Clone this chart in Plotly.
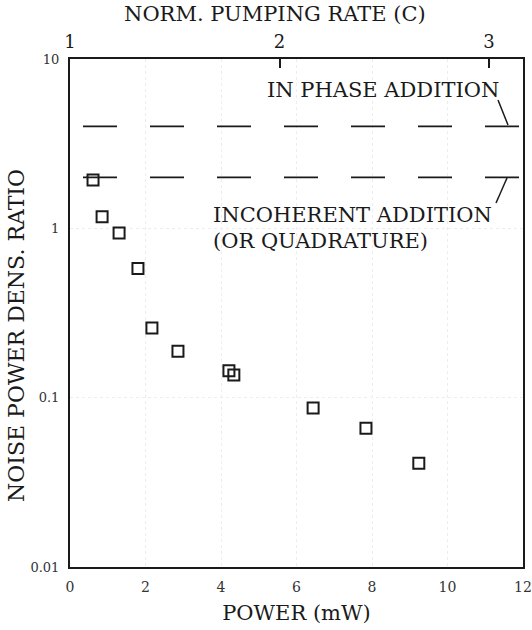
import plotly.graph_objects as go

# Data
power_mw = [0.61, 0.85, 1.30, 1.80, 2.17, 2.86, 4.21, 4.34, 6.44, 7.84, 9.24]
noise_ratio = [1.93, 1.17, 0.94, 0.58, 0.258, 0.188, 0.144, 0.136, 0.087, 0.066, 0.041]

in_phase_level = 4.0
incoherent_level = 2.0

x_ticks = [0, 2, 4, 6, 8, 10, 12]
y_ticks = [0.01, 0.1, 1, 10]
y_tick_text = ["0.01", "0.1", "1", "10"]

pump_ticks = [1, 2, 3]
pump_mw_per_unit = 5.55  # power (mW) per unit of normalized pumping rate
x_range = [0, 12]
pump_range = [1 + x_range[0] / pump_mw_per_unit, 1 + x_range[1] / pump_mw_per_unit]

FONT = "DejaVu Serif"
INK = "#1a1a1a"

# plot frame at x 70..523, y 59..567
PL, PW, PT, PH = 70, 453, 59, 508


def px(x):
    return (x - PL) / PW


def py(y):
    return 1 - (y - PT) / PH


fig = go.Figure()

dash = "0px,13px,34px,20px"
for lvl in (in_phase_level, incoherent_level):
    fig.add_trace(go.Scatter(x=x_range, y=[lvl, lvl], mode="lines",
                             line=dict(color=INK, width=1.6, dash=dash),
                             hoverinfo="skip", showlegend=False))

fig.add_trace(go.Scatter(x=power_mw, y=noise_ratio, mode="markers",
                         marker=dict(symbol="square-open", size=11, color=INK,
                                     line=dict(width=2, color=INK)),
                         showlegend=False))

# invisible trace to anchor the top axis
fig.add_trace(go.Scatter(x=pump_range, y=[1, 1], xaxis="x2", mode="markers",
                         marker=dict(opacity=0), hoverinfo="skip", showlegend=False))

fig.update_layout(
    width=532, height=630,
    margin=dict(l=PL, r=532 - PL - PW, t=PT, b=630 - PT - PH, autoexpand=False),
    paper_bgcolor="white", plot_bgcolor="white",
    font=dict(family=FONT, color=INK),
    xaxis=dict(range=x_range, tickvals=x_ticks, showline=True, linewidth=2,
               linecolor=INK, mirror=True, ticks="", showgrid=True, automargin=False,
               gridcolor="#ededed", griddash="dot", gridwidth=1, zeroline=False,
               tickfont=dict(size=14, color="#333333"), ticklabelstandoff=6,
               title=dict(text="POWER (mW)", font=dict(size=21, color=INK), standoff=12)),
    yaxis=dict(type="log", range=[-2, 1], tickvals=y_ticks, ticktext=y_tick_text,
               showline=True, linewidth=2, linecolor=INK, mirror=True, ticks="",
               showgrid=True, gridcolor="#ededed", griddash="dot", gridwidth=1,
               zeroline=False, tickfont=dict(size=13, color="#333333"),
               ticklabelstandoff=6, automargin=False),
    xaxis2=dict(overlaying="x", side="top", range=pump_range, tickvals=pump_ticks,
                ticks="inside", ticklen=9, tickwidth=1.5, tickcolor=INK,
                showline=False, showgrid=False, zeroline=False, automargin=False,
                tickfont=dict(size=18, color=INK), ticklabelstandoff=6),
)

fig.add_annotation(text="NORM. PUMPING RATE (C)", xref="paper", yref="paper",
                   x=px(275), y=py(14), showarrow=False,
                   font=dict(size=21), xanchor="center", yanchor="middle")
fig.add_annotation(text="NOISE POWER DENS. RATIO", xref="paper", yref="paper",
                   x=px(16), y=py(336), showarrow=False,
                   textangle=-90, font=dict(size=22), xanchor="center", yanchor="middle")
fig.add_annotation(text="IN PHASE ADDITION", xref="paper", yref="paper",
                   x=px(383), y=py(90), showarrow=False,
                   font=dict(size=21), xanchor="center", yanchor="middle")
fig.add_annotation(text="INCOHERENT ADDITION", xref="paper", yref="paper",
                   x=px(211), y=py(215), showarrow=False,
                   font=dict(size=21), xanchor="left", yanchor="middle")
fig.add_annotation(text="(OR QUADRATURE)", xref="paper", yref="paper",
                   x=px(211), y=py(241), showarrow=False,
                   font=dict(size=21), xanchor="left", yanchor="middle")

# pointer lines from labels to dashed levels
fig.add_shape(type="line", xref="paper", yref="paper",
              x0=px(498), y0=py(100), x1=px(508), y1=py(125),
              line=dict(color=INK, width=1.5))
fig.add_shape(type="line", xref="paper", yref="paper",
              x0=px(507), y0=py(178), x1=px(496), y1=py(203),
              line=dict(color=INK, width=1.5))

fig.write_html("out.html", config={"displayModeBar": False},
               post_script="document.body.style.margin='0';")
